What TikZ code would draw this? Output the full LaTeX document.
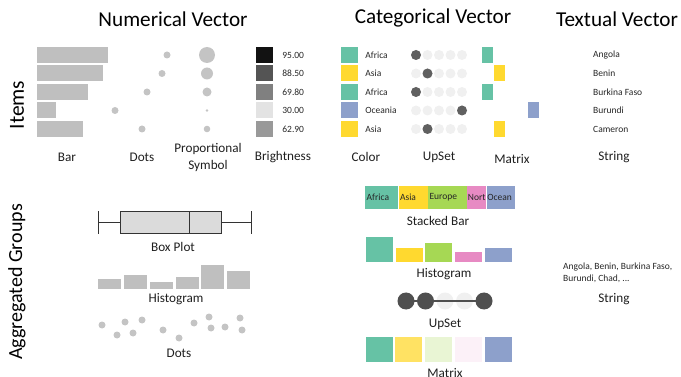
\documentclass[tikz,border=0pt]{standalone}
\usepackage{fontspec}
\setmainfont{Carlito}
\usepackage{tikz}
\usetikzlibrary{positioning}
\definecolor{barGray}{HTML}{BFBFBF}
\definecolor{dotGray}{HTML}{C4C4C4}
\definecolor{lineGray}{HTML}{333333}
\definecolor{upLight}{HTML}{F0F0F0}
\definecolor{upDark}{HTML}{606060}
\definecolor{upDarker}{HTML}{4F4F4F}
\definecolor{cAfrica}{HTML}{66C2A5}
\definecolor{cAsia}{HTML}{FFD92F}
\definecolor{cEurope}{HTML}{A6D854}
\definecolor{cNorth}{HTML}{E78AC3}
\definecolor{cOcean}{HTML}{8DA0CB}
\tikzstyle{title} = [font=\fontsize{21.2}{24}\selectfont]
\tikzstyle{rowhead} = [font=\fontsize{21.5}{24}\selectfont, rotate=90]
\tikzstyle{caption} = [font=\fontsize{13.2}{17}\selectfont, text=black!88, align=center]
\tikzstyle{item} = [font=\fontsize{9.5}{12}\selectfont, text=black!85, anchor=west, inner sep=0pt]
\tikzstyle{bar} = [fill=barGray, inner sep=0pt, minimum height=16pt, anchor=west]
\tikzstyle{dot} = [circle, fill=dotGray, inner sep=0pt, minimum size=7pt]
\tikzstyle{cell} = [inner sep=0pt, minimum width=17pt, minimum height=16pt]
\tikzstyle{mcell} = [inner sep=0pt, minimum width=11pt, minimum height=16pt]
\tikzstyle{updot} = [circle, fill=upLight, inner sep=0pt, minimum size=10pt]
\tikzstyle{hbar} = [fill=barGray, inner sep=0pt, minimum width=23pt, anchor=south west]
\tikzstyle{cbar} = [inner sep=0pt, minimum width=27pt, anchor=south west]

\begin{document}
\begin{tikzpicture}[x=1pt, y=-1pt]
		\useasboundingbox (0,0) rectangle (681,377);
		
		% headings
		\node [title] (numtitle) at (173,19) {Numerical Vector};
		\node [title] (cattitle) at (433,18) {Categorical Vector};
		\node [title] (txttitle) at (617,19) {Textual Vector};
		\node [rowhead] (items) at (17,105) {Items};
		\node [rowhead, font=\fontsize{20}{24}\selectfont] (groups) at (17,282) {Aggregated Groups};
		
		% items: bar
		\node [bar, minimum width=71pt] (bar1) at (37,55) {};
		\node [bar, minimum width=66pt] (bar2) at (37,73.5) {};
		\node [bar, minimum width=51pt] (bar3) at (37,92) {};
		\node [bar, minimum width=19pt] (bar4) at (37,110.5) {};
		\node [bar, minimum width=46pt] (bar5) at (37,129) {};
		\node [caption] (barcap) at (67,157) {Bar};
		
		% items: dots
		\node [dot] (dot1) at (167,55) {};
		\node [dot] (dot2) at (162,73.5) {};
		\node [dot] (dot3) at (147,92) {};
		\node [dot] (dot4) at (115,110.5) {};
		\node [dot] (dot5) at (142,129) {};
		\node [caption] (dotcap) at (142,157) {Dots};
		
		% items: proportional symbol
		\node [dot, minimum size=16pt] (sym1) at (207,55) {};
		\node [dot, minimum size=12pt] (sym2) at (207,73.5) {};
		\node [dot, minimum size=9pt] (sym3) at (207,92) {};
		\node [dot, minimum size=2.6pt] (sym4) at (207,110.5) {};
		\node [dot, minimum size=6.6pt] (sym5) at (207,129) {};
		\node [caption] (symcap) at (208,157.5) {Proportional\\Symbol};
		
		% items: brightness
		\node [cell, fill={black!93}] (bri1) at (264.5,55) {};
		\node [cell, fill={black!67}] (bri2) at (264.5,73.5) {};
		\node [cell, fill={black!50}] (bri3) at (264.5,92) {};
		\node [cell, fill={black!11}] (bri4) at (264.5,110.5) {};
		\node [cell, fill={black!40}] (bri5) at (264.5,129) {};
		\node [item, right=9pt of bri1] (bril1) {95.00};
		\node [item, right=9pt of bri2] (bril2) {88.50};
		\node [item, right=9pt of bri3] (bril3) {69.80};
		\node [item, right=9pt of bri4] (bril4) {30.00};
		\node [item, right=9pt of bri5] (bril5) {62.90};
		\node [caption] (bricap) at (283,157) {Brightness};
		
		% items: color
		\node [cell, fill=cAfrica] (col1) at (349.5,55) {};
		\node [cell, fill=cAsia] (col2) at (349.5,73.5) {};
		\node [cell, fill=cAfrica] (col3) at (349.5,92) {};
		\node [cell, fill=cOcean] (col4) at (349.5,110.5) {};
		\node [cell, fill=cAsia] (col5) at (349.5,129) {};
		\node [item, right=7pt of col1] (coll1) {Africa};
		\node [item, right=7pt of col2] (coll2) {Asia};
		\node [item, right=7pt of col3] (coll3) {Africa};
		\node [item, right=7pt of col4] (coll4) {Oceania};
		\node [item, right=7pt of col5] (coll5) {Asia};
		\node [caption] (colcap) at (366,157) {Color};
		
		% items: upset
		\foreach \r/\y in {1/55,2/73.5,3/92,4/110.5,5/129}
			\foreach \c in {1,...,5}
				\node [updot] (up\r\c) at (404.5+11.5*\c,\y) {};
		\node [updot, fill=upDark] at (up11) {};
		\node [updot, fill=upDark] at (up22) {};
		\node [updot, fill=upDark] at (up31) {};
		\node [updot, fill=upDark] at (up45) {};
		\node [updot, fill=upDark] at (up52) {};
		\node [caption] (upcap) at (439,157) {UpSet};
		
		% items: matrix
		\node [mcell, fill=cAfrica] (mat1) at (487.5,55) {};
		\node [mcell, fill=cAsia] (mat2) at (499,73.5) {};
		\node [mcell, fill=cAfrica] (mat3) at (487.5,92) {};
		\node [mcell, fill=cOcean] (mat4) at (533.5,110.5) {};
		\node [mcell, fill=cAsia] (mat5) at (499,129) {};
		\node [caption] (matcap) at (512,159) {Matrix};
		
		% items: string
		\node [item] (str1) at (593,55) {Angola};
		\node [item] (str2) at (593,73.5) {Benin};
		\node [item] (str3) at (593,92) {Burkina Faso};
		\node [item] (str4) at (593,110.5) {Burundi};
		\node [item] (str5) at (593,129) {Cameron};
		\node [caption] (strcap) at (614,157) {String};
		
		% groups: box plot
		\node [draw=lineGray, line width=1pt, fill=black!14, inner sep=0pt, minimum width=101pt, minimum height=22pt] (box) at (170.5,223) {};
		\coordinate (wlo) at (98,223);
		\coordinate (whi) at (251,223);
		\draw [lineGray, line width=1pt] (wlo) -- (box.west);
		\draw [lineGray, line width=1pt] (box.east) -- (whi);
		\draw [lineGray, line width=1pt] ([yshift=11.5pt]wlo) -- ([yshift=-11.5pt]wlo);
		\draw [lineGray, line width=1pt] ([yshift=11.5pt]whi) -- ([yshift=-11.5pt]whi);
		\draw [lineGray, line width=1pt] ([xshift=70pt]box.north west) -- ([xshift=70pt]box.south west);
		\node [caption] (boxcap) at (173,247) {Box Plot};
		
		% groups: numerical histogram
		\node [hbar, minimum height=10pt] (nh1) at (98,289) {};
		\node [hbar, minimum height=14pt] (nh2) at (124,289) {};
		\node [hbar, minimum height=7pt] (nh3) at (150,289) {};
		\node [hbar, minimum height=12pt] (nh4) at (176,289) {};
		\node [hbar, minimum height=24pt] (nh5) at (201,289) {};
		\node [hbar, minimum height=18pt] (nh6) at (227,289) {};
		\node [caption] (nhcap) at (176,299) {Histogram};
		
		% groups: dots
		\node [dot] (gd1) at (102,325) {};
		\node [dot] (gd2) at (117,335) {};
		\node [dot] (gd3) at (125,322) {};
		\node [dot] (gd4) at (133,333) {};
		\node [dot] (gd5) at (142,320) {};
		\node [dot] (gd6) at (163,330) {};
		\node [dot] (gd7) at (179,338) {};
		\node [dot] (gd8) at (194,323) {};
		\node [dot] (gd9) at (209,317) {};
		\node [dot] (gd10) at (211,328) {};
		\node [dot] (gd11) at (225,327) {};
		\node [dot] (gd12) at (240,318) {};
		\node [dot] (gd13) at (242,330) {};
		\node [caption] (gdcap) at (179,353) {Dots};
		
		% groups: stacked bar
		\node [fill=cAfrica, inner sep=0pt, minimum width=33pt, minimum height=23pt, anchor=west] (sb1) at (365,197.5) {};
		\node [fill=cAsia, inner sep=0pt, minimum width=29pt, minimum height=23pt, anchor=west] (sb2) at (sb1.east) {};
		\node [fill=cEurope, inner sep=0pt, minimum width=39pt, minimum height=23pt, anchor=west] (sb3) at (sb2.east) {};
		\node [fill=cNorth, inner sep=0pt, minimum width=19pt, minimum height=23pt, anchor=west] (sb4) at (sb3.east) {};
		\node [fill=cOcean, inner sep=0pt, minimum width=28pt, minimum height=23pt, anchor=west] (sb5) at (sb4.east) {};
		\node [item, right=1.5pt of sb1.west] (sbl1) {Africa};
		\node [item, right=1.5pt of sb2.west] (sbl2) {Asia};
		\node [item, right=1.5pt of sb3.west] (sbl3) {Europe};
		\node [item, right=0.5pt of sb4.west] (sbl4) {Nort};
		\node [item, right=0.5pt of sb5.west] (sbl5) {Ocean};
		\node [caption] (sbcap) at (438,221) {Stacked Bar};
		
		% groups: categorical histogram
		\node [cbar, fill=cAfrica, minimum height=25pt] (ch1) at (366,262) {};
		\node [cbar, fill=cAsia, minimum height=14pt] (ch2) at (396,262) {};
		\node [cbar, fill=cEurope, minimum height=19pt] (ch3) at (425,262) {};
		\node [cbar, fill=cNorth, minimum height=10pt] (ch4) at (455,262) {};
		\node [cbar, fill=cOcean, minimum height=14pt] (ch5) at (485,262) {};
		\node [caption] (chcap) at (444,274) {Histogram};
		
		% groups: upset
		\node [updot, minimum size=17pt] (ag1) at (406,301) {};
		\node [updot, minimum size=17pt] (ag2) at (425.5,301) {};
		\node [updot, minimum size=17pt] (ag3) at (445,301) {};
		\node [updot, minimum size=17pt] (ag4) at (464.5,301) {};
		\node [updot, minimum size=17pt] (ag5) at (484,301) {};
		\draw [upDarker, line width=2pt] (ag1.center) -- (ag5.center);
		\node [updot, minimum size=17pt, fill=upDarker] at (ag1) {};
		\node [updot, minimum size=17pt, fill=upDarker] at (ag2) {};
		\node [updot, minimum size=17pt, fill=upDarker] at (ag5) {};
		\node [caption] (agcap) at (445,324) {UpSet};
		
		% groups: matrix
		\node [cbar, fill=cAfrica, minimum height=25pt] (gm1) at (366,362) {};
		\node [cbar, fill={cAsia!75}, minimum height=25pt] (gm2) at (395,362) {};
		\node [cbar, fill={cEurope!25}, minimum height=25pt] (gm3) at (425,362) {};
		\node [cbar, fill={cNorth!12}, minimum height=25pt] (gm4) at (455,362) {};
		\node [cbar, fill=cOcean, minimum height=25pt] (gm5) at (485,362) {};
		\node [caption] (gmcap) at (445,373) {Matrix};
		
		% groups: string
		\node [item, anchor=north west, align=left] (gstr) at (563,263) {Angola, Benin, Burkina Faso,\\Burundi, Chad, ...};
		\node [caption] (gstrcap) at (614,299) {String};
		
		\end{tikzpicture}
\end{document}
